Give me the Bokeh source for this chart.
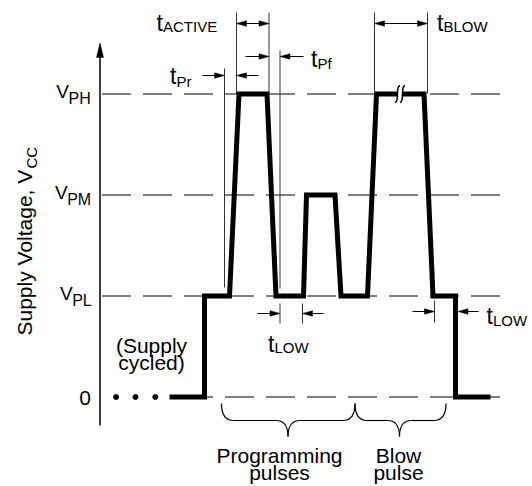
import math
from bokeh.plotting import figure
from bokeh.models import Range1d
from bokeh.embed import file_html
from bokeh.resources import INLINE
from bokeh.core.properties import value

# ---------------- data ----------------
# supply-voltage levels (index 0..3) and their labels
level_index = [0, 1, 2, 3]
level_name = ["0", "V", "V", "V"]
level_subscript = ["", "PL", "PM", "PH"]

# programming waveform: time (arbitrary units) and level index
wave_time = [69, 104, 104, 129, 138.5, 166.5, 175.5, 203, 206, 234.5,
             240.5, 267, 276, 323.5, 332.5, 355, 355, 390]
wave_level = [0, 0, 1, 1, 3, 3, 1, 1, 2, 2,
              1, 1, 3, 3, 1, 1, 0, 0]

# "supply cycled" dots before the sequence
dots_time = [15.6, 35, 54.8]

# timing marks (time units)
t_active = (136, 168.5)
t_blow = (274, 327)
t_pr_line = 124
t_pf_line = 179.5
t_low1 = (179.5, 202)
t_low2 = (334, 357.5)

FONT = value("Liberation Sans")

# ---------------- geometry helpers ----------------
LEVEL0_PX = 396.5
LEVEL_STEP_PX = 101.0
W, H = 532, 486
BASE_K = 0.33   # baseline correction (fraction of font size)


def X(px):
    return px - 100.0


def Y(py):
    return (LEVEL0_PX - py) / LEVEL_STEP_PX


def PX(t):
    return t + 100.0


p = figure(width=W, height=H,
           x_range=Range1d(X(0), X(W)), y_range=Range1d(Y(H), Y(0)),
           output_backend="svg", toolbar_location=None,
           x_axis_location=None, y_axis_location=None,
           min_border=0, outline_line_color=None,
           background_fill_color="white", border_fill_color="white")
p.grid.visible = False

INK = "black"
THIN = "#333333"

# ---------------- dashed level lines ----------------
for lv in level_index:
    start = 101.5 if lv > 0 else 101.5 + 2 * 41
    p.segment(x0=[X(start)], x1=[X(500)], y0=[lv], y1=[lv],
              line_color=INK, line_width=1, line_dash="29 12")

# ---------------- vertical axis with arrow ----------------
p.segment(x0=[X(99.5)], x1=[X(99.5)], y0=[Y(55)], y1=[Y(425)],
          line_color=INK, line_width=1.5)
p.patch(x=[X(99.5), X(96), X(103)], y=[Y(42.5), Y(57), Y(57)],
        fill_color=INK, line_color=INK, line_width=0.5)

# ---------------- waveform ----------------
p.line(wave_time, wave_level, line_width=5, line_color=INK,
       line_join="miter", line_cap="butt")
p.scatter(dots_time, [0] * len(dots_time), size=5, color=INK)

# break mark on the blow pulse
p.quad(left=[X(397.5)], right=[X(401.5)], bottom=[Y(97.5)], top=[Y(89.5)],
       fill_color="white", line_color=None)
for bx in (397, 402):
    p.bezier(x0=[X(bx + 2.5)], y0=[Y(85)], x1=[X(bx - 2.5)], y1=[Y(102)],
             cx0=[X(bx - 2.5)], cy0=[Y(86)], cx1=[X(bx + 2.5)], cy1=[Y(101)],
             line_color=INK, line_width=1.5)

# ---------------- dimension lines & arrows ----------------
vl_x, vl_y0, vl_y1 = [], [], []


def vline(t, y0, y1):
    vl_x.append(t)
    vl_y0.append(Y(y0))
    vl_y1.append(Y(y1))


vline(t_active[0], 12, 93)
vline(t_active[1], 12, 93)
vline(t_blow[0], 12, 93)
vline(t_blow[1], 12, 93)
vline(t_pr_line, 68, 287)
vline(t_pf_line, 50, 288)
vline(t_low1[0], 303, 323)
vline(t_low1[1], 303, 323)
vline(t_low2[0], 300, 322)
p.segment(x0=vl_x, x1=vl_x, y0=vl_y0, y1=vl_y1, line_color=THIN, line_width=1)

HL, HW = 10.0, 5.5
sx0, sx1, sy = [], [], []
hxs, hys = [], []


def head(tip_px, y_px, d):
    b = tip_px - d * HL
    hxs.append([X(tip_px), X(b), X(b)])
    hys.append([Y(y_px), Y(y_px - HW / 2), Y(y_px + HW / 2)])


def arrow(from_px, to_px, y_px):
    d = 1 if to_px > from_px else -1
    sx0.append(X(from_px))
    sx1.append(X(to_px - d * HL * 0.5))
    sy.append(Y(y_px))
    head(to_px, y_px, d)


def double_arrow(a_px, b_px, y_px):
    sx0.append(X(a_px + HL * 0.5))
    sx1.append(X(b_px - HL * 0.5))
    sy.append(Y(y_px))
    head(a_px, y_px, -1)
    head(b_px, y_px, 1)


double_arrow(PX(t_active[0]), PX(t_active[1]), 23)
double_arrow(PX(t_blow[0]), PX(t_blow[1]), 23)
arrow(245, PX(t_active[1]), 56)
arrow(303, PX(t_pf_line), 56)
arrow(202, PX(t_pr_line), 75)
arrow(258, PX(t_active[0]), 75)
arrow(257, PX(t_low1[0]), 313)
arrow(323, PX(t_low1[1]), 313)
arrow(412, PX(t_low2[0]), 311)
arrow(478, PX(t_low2[1]), 311)

p.segment(x0=sx0, x1=sx1, y0=sy, y1=sy, line_color=INK, line_width=1)
p.patches(xs=hxs, ys=hys, fill_color=INK, line_color=INK, line_width=0.5)

# ---------------- braces ----------------


def brace(x0, x1, xm, ytop=403, ymid=420, ybot=436, r=12):
    q = dict(line_color=INK, line_width=1.2)
    p.quadratic(x0=[X(x0)], y0=[Y(ytop)], x1=[X(x0 + r)], y1=[Y(ymid)],
                cx=[X(x0)], cy=[Y(ymid)], **q)
    p.segment(x0=[X(x0 + r)], x1=[X(xm - r)], y0=[Y(ymid)], y1=[Y(ymid)], **q)
    p.quadratic(x0=[X(xm - r)], y0=[Y(ymid)], x1=[X(xm)], y1=[Y(ybot)],
                cx=[X(xm)], cy=[Y(ymid)], **q)
    p.quadratic(x0=[X(xm)], y0=[Y(ybot)], x1=[X(xm + r)], y1=[Y(ymid)],
                cx=[X(xm)], cy=[Y(ymid)], **q)
    p.segment(x0=[X(xm + r)], x1=[X(x1 - r)], y0=[Y(ymid)], y1=[Y(ymid)], **q)
    p.quadratic(x0=[X(x1 - r)], y0=[Y(ymid)], x1=[X(x1)], y1=[Y(ytop)],
                cx=[X(x1)], cy=[Y(ymid)], **q)


brace(221, 354.5, 287.5)
brace(354.5, 445.5, 399)

# ---------------- texts ----------------


def txt(x_px, y_px, s, size, align="left", angle=0.0):
    # compensate the renderer's baseline placement
    if angle == 0.0:
        y_px = y_px - BASE_K * size
    else:
        x_px = x_px - BASE_K * size
    p.text(x=[X(x_px)], y=[Y(y_px)], text=[s], angle=angle,
           text_font=FONT, text_font_size=f"{size}px", text_color=INK,
           text_align=align, text_baseline="alphabetic")


T_SIZE, SUB_SIZE = 23, 15


def tlabel(x_px, y_px, sub, sub_dy=0.0):
    txt(x_px, y_px, "t", T_SIZE)
    txt(x_px + 6.5, y_px + sub_dy, sub, SUB_SIZE)


tlabel(156, 30.5, "ACTIVE")
tlabel(436.5, 30.5, "BLOW")
tlabel(310.5, 66, "Pf", 2)
tlabel(169.5, 83, "Pr", 2.5)
tlabel(267.5, 351, "LOW", 0.7)
tlabel(486, 323.5, "LOW", 1.5)

# level labels
sub_left = {1: 71.7, 2: 66.7, 3: 68.0}
for lv, name, sub in zip(level_index, level_name, level_subscript):
    ly = LEVEL0_PX - lv * LEVEL_STEP_PX
    if sub == "":
        txt(90.5, ly + 7.5, name, 21, align="right")
    else:
        txt(sub_left[lv] + 0.5, ly + 3.5, name, 19, align="right")
        txt(sub_left[lv], ly + 10, sub, 16)

# y-axis title (rotated)
txt(30.5, 335, "Supply Voltage, V", 21, angle=math.pi / 2)
txt(35.5, 335 - 7.949 * 21, "CC", SUB_SIZE, angle=math.pi / 2)

# notes
txt(151, 352.3, "(Supply", 21, align="center")
txt(151, 369.3, "cycled)", 21, align="center")
txt(279, 461.5, "Programming", 21, align="center")
txt(279, 478.5, "pulses", 21, align="center")
txt(398, 461.5, "Blow", 21, align="center")
txt(398, 478.5, "pulse", 21, align="center")

open("out.html", "w").write(file_html(p, INLINE))
